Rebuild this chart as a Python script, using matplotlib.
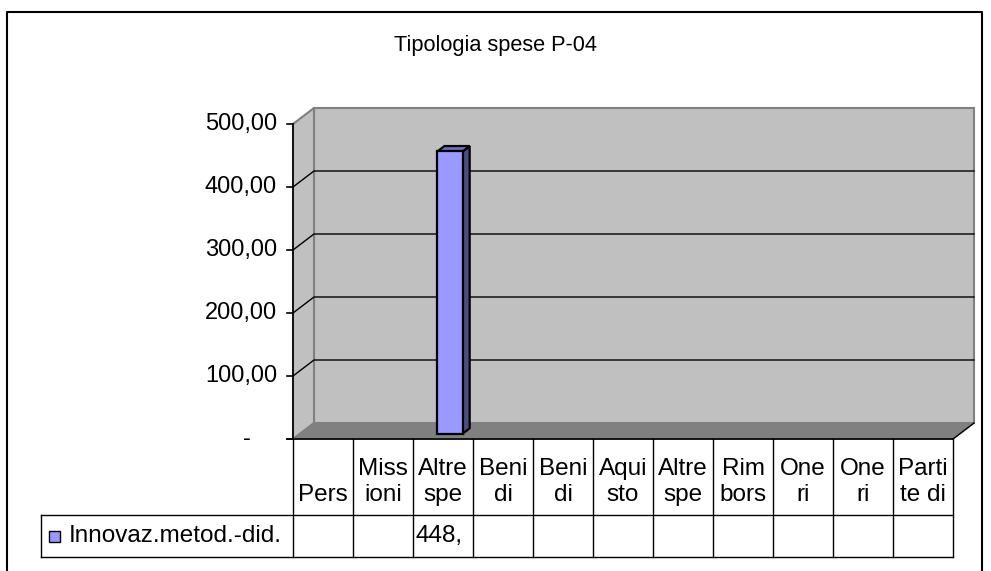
import matplotlib
matplotlib.use("Agg")
import matplotlib.pyplot as plt
from matplotlib.patches import Polygon
from matplotlib.lines import Line2D
from matplotlib.transforms import IdentityTransform
import numpy as np

# ── data ────────────────────────────────────────────────────────────────
title = "Tipologia spese P-04"
series_name = "Innovaz.metod.-did."
categories = ["Pers", "Miss\nioni", "Altre\nspe", "Beni\ndi", "Beni\ndi",
              "Aqui\nsto", "Altre\nspe", "Rim\nbors", "One\nri", "One\nri",
              "Parti\nte di"]
values = [None, None, 448.0, None, None, None, None, None, None, None, None]
y_ticks = [0, 100, 200, 300, 400, 500]

# ── style / geometry (pixels) ───────────────────────────────────────────
W, H = 991, 571
WALL = "#C0C0C0"
FLOOR = "#808080"
EDGE = "#808080"
BAR_FRONT = "#9999FF"
BAR_SIDE = "#4D4D85"
BAR_TOP = "#6F6FC0"
DEPTH = np.array([21.0, 16.0])   # back plane offset, px right / up
BAR_D0, BAR_D1 = 0.33, 0.67      # bar depth inside the box
BAR_W = 0.42                     # bar width as a fraction of category
HEAD_H, ROW_H = 76, 42           # data table rows, px
LEG_LEFT = 41
TICK_FS, TABLE_FS, TITLE_FS = 17, 17.5, 15.7

plt.rcParams["font.family"] = ["Liberation Sans", "DejaVu Sans"]

fig = plt.figure(figsize=(W / 100, H / 100), dpi=100)
ax = fig.add_axes([293 / W, 132 / H, 660 / W, 315 / H])
ax.set_xlim(0, len(categories))
ax.set_ylim(y_ticks[0], y_ticks[-1])
ax.axis("off")
PIX = IdentityTransform()


def P(x, v, d=0.0):
    return ax.transData.transform((x, v)) + d * DEPTH


def poly(pts, fc, ec, lw=1.0, z=1):
    ax.add_patch(Polygon(np.array(pts), closed=True, facecolor=fc, edgecolor=ec,
                         linewidth=lw, transform=PIX, clip_on=False, zorder=z))


def line(pts, color="black", lw=1.0, z=3):
    pts = np.array(pts)
    ax.add_line(Line2D(pts[:, 0], pts[:, 1], color=color, linewidth=lw,
                       transform=PIX, clip_on=False, zorder=z))


n = len(categories)
ymin, ymax = y_ticks[0], y_ticks[-1]

# outer frame (bottom edge is cut off in the original)
line([(7, -5), (7, 559), (982, 559), (982, -5)], lw=1.5, z=0)

# walls and floor
poly([P(0, ymin, 1), P(n, ymin, 1), P(n, ymax, 1), P(0, ymax, 1)], WALL, EDGE, 1.5)
poly([P(0, ymin, 0), P(0, ymin, 1), P(0, ymax, 1), P(0, ymax, 0)], WALL, EDGE, 1.5)
poly([P(0, ymin, 0), P(n, ymin, 0), P(n, ymin, 1), P(0, ymin, 1)], FLOOR, FLOOR, 1.0)
line([P(n, ymin, 0), P(n, ymin, 1)], lw=1.0)

# gridlines on back wall and side wall
for v in y_ticks[1:-1]:
    line([P(0, v, 0), P(0, v, 1), P(n, v, 1)], lw=1.0, z=2)

# value axis
line([P(0, ymin, 0), P(0, ymax, 0)], lw=1.2)
for v in y_ticks:
    x0, y0 = P(0, v, 0)
    line([(x0 - 6, y0), (x0, y0)], lw=1.2)
    if v == 0:
        ax.text(x0 - 46, y0, "-", ha="center", va="center", fontsize=TICK_FS,
                transform=PIX)
    else:
        lab = f"{v:,.2f}".replace(",", "X").replace(".", ",").replace("X", ".")
        ax.text(x0 - 16, y0, lab, ha="right", va="center", fontsize=TICK_FS,
                transform=PIX)

# bars
for i, v in enumerate(values):
    if v is None:
        continue
    xl = i + (1 - BAR_W) / 2
    xr = xl + BAR_W
    front = [P(xl, 0, BAR_D0), P(xr, 0, BAR_D0), P(xr, v, BAR_D0), P(xl, v, BAR_D0)]
    side = [P(xr, 0, BAR_D0), P(xr, 0, BAR_D1), P(xr, v, BAR_D1), P(xr, v, BAR_D0)]
    top = [P(xl, v, BAR_D0), P(xr, v, BAR_D0), P(xr, v, BAR_D1), P(xl, v, BAR_D1)]
    poly(side, BAR_SIDE, "black", 1.6, z=4)
    poly(top, BAR_TOP, "black", 1.6, z=4)
    poly(front, BAR_FRONT, "black", 1.6, z=5)

# data table
xb0, yb = P(0, ymin, 0)
xb1, _ = P(n, ymin, 0)
y_head = yb - HEAD_H
y_row = y_head - ROW_H
line([(xb0 - 6, yb), (xb1, yb)], lw=1.2)
line([(LEG_LEFT, y_head), (xb1, y_head)], lw=1.0)
line([(LEG_LEFT, y_row), (xb1, y_row)], lw=1.0)
line([(LEG_LEFT, y_head), (LEG_LEFT, y_row)], lw=1.0)
for i in range(n + 1):
    xc, _ = P(i, ymin, 0)
    line([(xc, yb), (xc, y_row)], lw=1.0)

for i, (cat, v) in enumerate(zip(categories, values)):
    xa, _ = P(i, ymin, 0)
    xc, _ = P(i + 0.5, ymin, 0)
    ax.text(xc, y_head + 9, cat, ha="center", va="bottom", fontsize=TABLE_FS,
            linespacing=1.25, transform=PIX)
    if v is not None:
        lab = f"{v:.2f}".replace(".", ",")[:4]
        ax.text(xa + 3, (y_head + y_row) / 2, lab, ha="left", va="center",
                fontsize=TABLE_FS, transform=PIX)

# legend key inside the table
ky = (y_head + y_row) / 2
ax.add_patch(Polygon(np.array([(49, ky - 6), (60, ky - 6), (60, ky + 5), (49, ky + 5)]),
                     closed=True, facecolor=BAR_FRONT, edgecolor="black",
                     linewidth=1.0, transform=PIX, clip_on=False))
ax.text(69, ky, series_name, ha="left", va="center", fontsize=TABLE_FS,
        transform=PIX)

fig.text(495 / W, 1 - 45 / H, title, ha="center", va="center", fontsize=TITLE_FS)

fig.savefig("out.png", dpi=100)
